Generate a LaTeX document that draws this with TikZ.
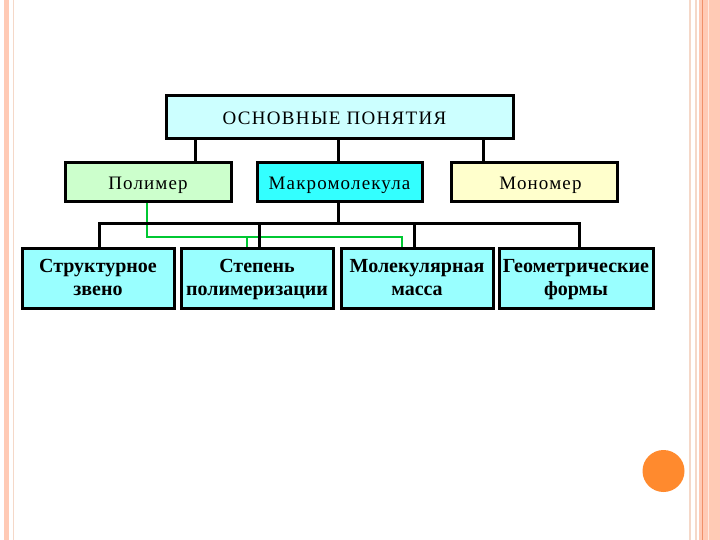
\documentclass[tikz,border=0pt]{standalone}
\usepackage{fontspec}
\setmainfont{Liberation Serif}
\definecolor{topfill}{HTML}{CCFFFF}
\definecolor{polfill}{HTML}{CCFFCC}
\definecolor{makfill}{HTML}{33FFFF}
\definecolor{monfill}{HTML}{FFFFCC}
\definecolor{lowfill}{HTML}{99FFFF}
\definecolor{greenline}{HTML}{00C832}
\definecolor{salmon}{HTML}{FFCAB5}
\definecolor{paleline}{HTML}{F5D8C8}
\definecolor{darkline}{HTML}{F0906A}
\definecolor{orangedot}{HTML}{FF8A2E}
\tikzset{
  box/.style={draw=black, line width=3pt, rectangle, inner sep=0pt, align=center},
  rowtwo/.style={box, minimum width=166pt, minimum height=39pt, text height=17pt, text depth=2pt,
     font=\fontsize{19}{23}\selectfont\addfontfeature{LetterSpace=6}},
  rowthree/.style={box, fill=lowfill, minimum width=152pt, minimum height=60pt, text height=38pt, text depth=4pt,
     font=\bfseries\fontsize{20}{23}\selectfont},
  conn/.style={draw=black, line width=3pt},
  gconn/.style={draw=greenline, line width=2.2pt}
}
\begin{document}
\begin{tikzpicture}[x=1pt,y=-1pt]
\useasboundingbox (0,0) rectangle (720,540);
\fill[white] (0,0) rectangle (720,540);
% page decoration
\fill[salmon] (3.5,0) rectangle (9,540);
\draw[paleline, line width=1pt] (13.5,0) -- (13.5,540);
\draw[paleline, line width=2.5pt] (690,0) -- (690,540);
\draw[paleline, line width=1.5pt] (696,0) -- (696,540);
\fill[salmon] (698.5,0) rectangle (720,540);
\draw[darkline, line width=1.2pt] (702.5,0) -- (702.5,540);
\draw[white!60!salmon, line width=0.8pt] (708,0) -- (708,540);
\fill[orangedot] (663.5,471) circle (21);
% nodes
\node[box, fill=topfill, minimum width=347pt, minimum height=43pt, text height=15pt, text depth=1.4pt,
  font=\fontsize{19}{23}\selectfont\addfontfeature{LetterSpace=7}] (top) at (339.5,117.5) {ОСНОВНЫЕ ПОНЯТИЯ\hspace*{10pt}};
\node[rowtwo, fill=polfill] (pol) at (148,182.5) {Полимер};
\node[rowtwo, fill=makfill, minimum width=165pt] (mak) at (339.5,182.5) {Макромолекула};
\node[rowtwo, fill=monfill] (mon) at (534,182.5) {\hspace*{13pt}Мономер};
\node[rowthree] (b1) at (98,278) {Структурное\\звено};
\node[rowthree] (b2) at (257,278) {Степень\\полимеризации};
\node[rowthree] (b3) at (417,278) {Молекулярная\\масса};
\node[rowthree, minimum width=154pt] (b4) at (576,278) {Геометрические\\формы};
% connectors from top
\draw[conn] ([xshift=47pt]pol.north) -- ([xshift=47pt]pol.north |- top.south);
\draw[conn] ([xshift=-1pt]mak.north) -- ([xshift=-1pt]mak.north |- top.south);
\draw[conn] ([xshift=-51pt]mon.north) -- ([xshift=-51pt]mon.north |- top.south);
% green connectors
\coordinate (gy) at (0,237);
\draw[gconn] ([xshift=-1pt]pol.south) -- ([xshift=-1pt]pol.south |- gy) -- ([xshift=-15pt]b3.north |- gy) -- ([xshift=-15pt]b3.north);
\draw[gconn] ([xshift=-10pt]b2.north |- gy) -- ([xshift=-10pt]b2.north);
% black bus
\coordinate (by) at (0,224);
\draw[conn] ([xshift=-1pt]mak.south) -- ([xshift=-1pt]mak.south |- by);
\draw[conn, line cap=rect] ([xshift=1pt]b1.north |- by) -- ([xshift=3pt]b4.north |- by);
\draw[conn] ([xshift=1pt]b1.north) -- ([xshift=1pt]b1.north |- by);
\draw[conn] ([xshift=2pt]b2.north) -- ([xshift=2pt]b2.north |- by);
\draw[conn] ([xshift=-3pt]b3.north) -- ([xshift=-3pt]b3.north |- by);
\draw[conn] ([xshift=3pt]b4.north) -- ([xshift=3pt]b4.north |- by);
\end{tikzpicture}
\end{document}
